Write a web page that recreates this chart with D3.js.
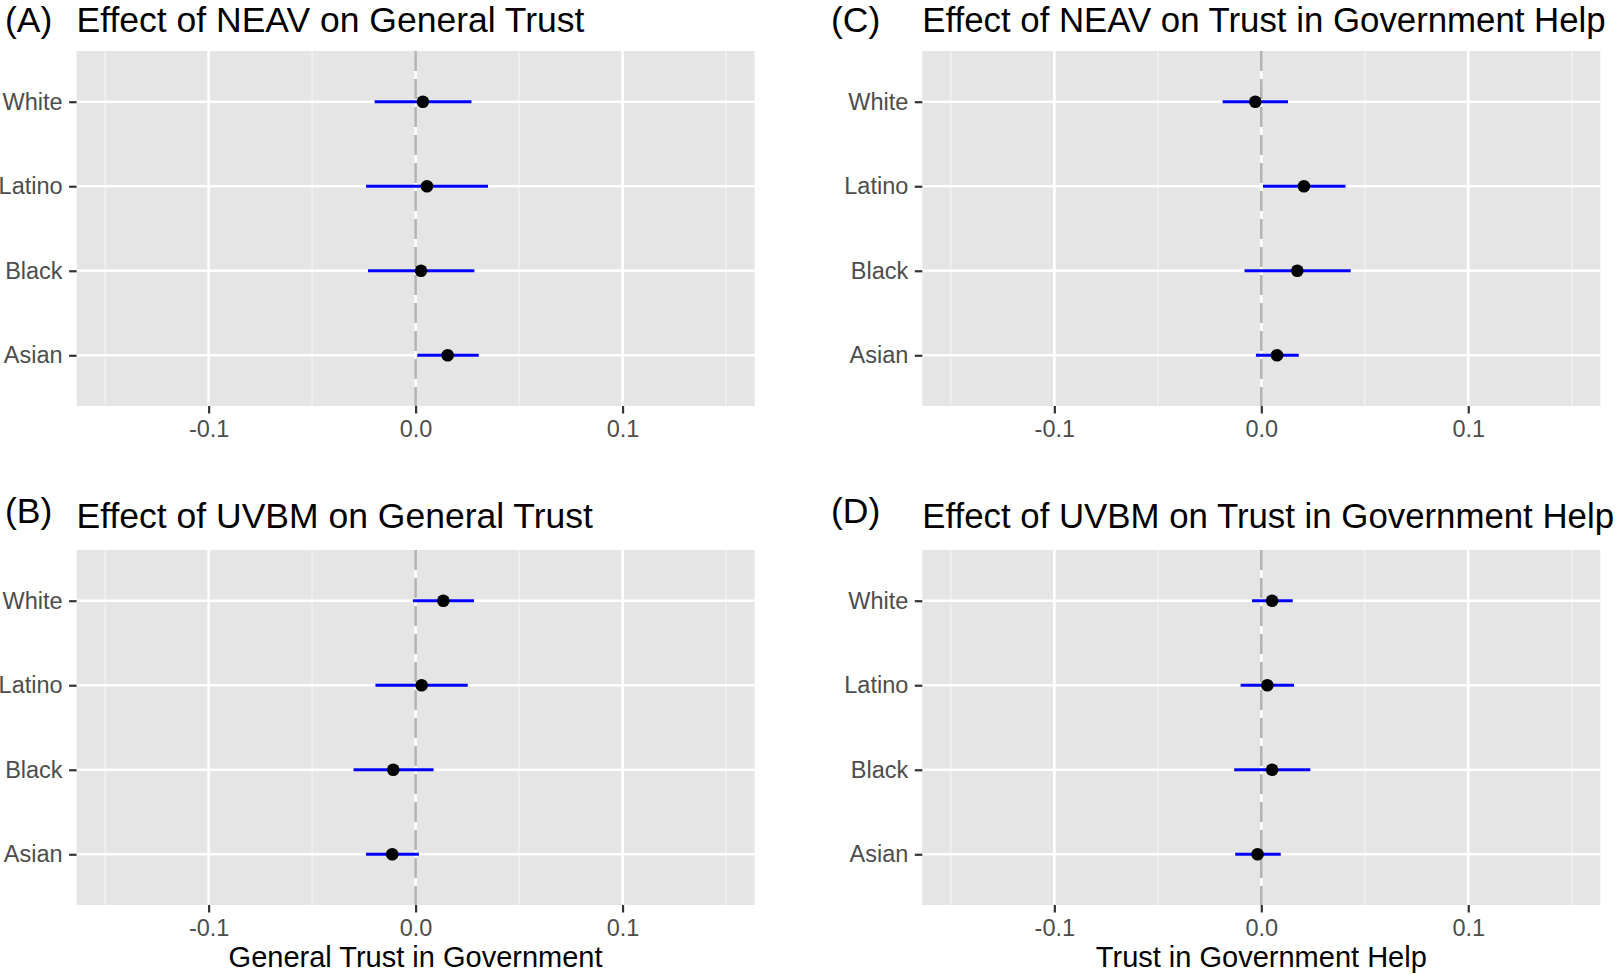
<!DOCTYPE html>
<html>
<head>
<meta charset="utf-8">
<script src="https://cdn.jsdelivr.net/npm/d3@7"></script>
<style>
	body { margin: 0; background: #fff; }
	svg text { font-family: "Liberation Sans", Arial, Helvetica, sans-serif; }
</style>
</head>
<body>
<svg id="chart" width="1623" height="974"></svg>
<script>
'use strict';

var races = ['White', 'Latino', 'Black', 'Asian'];
var xTicks = [-0.1, 0.0, 0.1];
var xMinorTicks = [-0.15, -0.05, 0.05, 0.15];

// (A) NEAV -> general trust
var neavGeneralEst = [0.0035, 0.0055, 0.0026, 0.0155];
var neavGeneralLo = [-0.0198, -0.0240, -0.0230, 0.0008];
var neavGeneralHi = [0.0270, 0.0350, 0.0284, 0.0305];

// (B) UVBM -> general trust
var uvbmGeneralEst = [0.0134, 0.0029, -0.0108, -0.0113];
var uvbmGeneralLo = [-0.0013, -0.0194, -0.0300, -0.0240];
var uvbmGeneralHi = [0.0282, 0.0252, 0.0087, 0.0016];

// (C) NEAV -> trust in government help
var neavHelpEst = [-0.0029, 0.0206, 0.0174, 0.0076];
var neavHelpLo = [-0.0187, 0.0008, -0.0081, -0.0026];
var neavHelpHi = [0.0129, 0.0407, 0.0432, 0.0181];

// (D) UVBM -> trust in government help
var uvbmHelpEst = [0.0052, 0.0029, 0.0052, -0.0018];
var uvbmHelpLo = [-0.0045, -0.0100, -0.0131, -0.0126];
var uvbmHelpHi = [0.0152, 0.0158, 0.0237, 0.0094];

var panels = [
	{tag: '(A)', title: 'Effect of NEAV on General Trust', xLabel: '',
		est: neavGeneralEst, lo: neavGeneralLo, hi: neavGeneralHi, col: 0, row: 0},
	{tag: '(B)', title: 'Effect of UVBM on General Trust', xLabel: 'General Trust in Government',
		est: uvbmGeneralEst, lo: uvbmGeneralLo, hi: uvbmGeneralHi, col: 0, row: 1},
	{tag: '(C)', title: 'Effect of NEAV on Trust in Government Help', xLabel: '',
		est: neavHelpEst, lo: neavHelpLo, hi: neavHelpHi, col: 1, row: 0},
	{tag: '(D)', title: 'Effect of UVBM on Trust in Government Help', xLabel: 'Trust in Government Help',
		est: uvbmHelpEst, lo: uvbmHelpLo, hi: uvbmHelpHi, col: 1, row: 1}
];

var panelLeft = [76.6, 922.3],
	panelTop = [51, 550],
	panelWidth = 678,
	panelHeight = 355,
	tagLeft = [5, 831],
	titleBase = [32, 528],
	tagBase = [32, 523],
	titleSize = [35.5, 34.8],
	xDomain = [-0.1638, 0.1638];

var fmt = function(d) { return d.toFixed(1); };

var svg = d3.select('#chart');

panels.forEach(function(p) {
	var px = panelLeft[p.col],
		py = panelTop[p.row];

	var x = d3.scaleLinear().domain(xDomain).range([0, panelWidth]);
	var y = d3.scalePoint().domain(races).range([0, panelHeight]).padding(0.6);

	var rows = races.map(function(r, i) {
		return {race: r, est: p.est[i], lo: p.lo[i], hi: p.hi[i]};
	});

	var g = svg.append('g').attr('transform', 'translate(' + px + ',' + py + ')');

	// panel background + grid
	g.append('rect')
		.attr('width', panelWidth)
		.attr('height', panelHeight)
		.attr('fill', '#e5e5e5');

	g.selectAll('line.minor')
		.data(xMinorTicks)
		.enter().append('line')
		.attr('class', 'minor')
		.attr('x1', function(d) { return x(d); })
		.attr('x2', function(d) { return x(d); })
		.attr('y1', 0)
		.attr('y2', panelHeight)
		.attr('stroke', '#f2f2f2')
		.attr('stroke-width', 1.4);

	g.selectAll('line.major-x')
		.data(xTicks)
		.enter().append('line')
		.attr('class', 'major-x')
		.attr('x1', function(d) { return x(d); })
		.attr('x2', function(d) { return x(d); })
		.attr('y1', 0)
		.attr('y2', panelHeight)
		.attr('stroke', '#fff')
		.attr('stroke-width', 2.6);

	g.selectAll('line.major-y')
		.data(races)
		.enter().append('line')
		.attr('class', 'major-y')
		.attr('x1', 0)
		.attr('x2', panelWidth)
		.attr('y1', function(d) { return y(d); })
		.attr('y2', function(d) { return y(d); })
		.attr('stroke', '#fff')
		.attr('stroke-width', 2.6);

	// reference line at zero
	g.append('line')
		.attr('x1', x(0))
		.attr('x2', x(0))
		.attr('y1', 0)
		.attr('y2', panelHeight)
		.attr('stroke', '#b3b3b3')
		.attr('stroke-width', 2.6)
		.attr('stroke-dasharray', '20,8');

	g.selectAll('line.ci')
		.data(rows)
		.enter().append('line')
		.attr('class', 'ci')
		.attr('x1', function(d) { return x(d.lo); })
		.attr('x2', function(d) { return x(d.hi); })
		.attr('y1', function(d) { return y(d.race); })
		.attr('y2', function(d) { return y(d.race); })
		.attr('stroke', '#0000ff')
		.attr('stroke-width', 3);

	g.selectAll('circle.est')
		.data(rows)
		.enter().append('circle')
		.attr('class', 'est')
		.attr('cx', function(d) { return x(d.est); })
		.attr('cy', function(d) { return y(d.race); })
		.attr('r', 6.3)
		.attr('fill', '#000');

	// axes
	var xAxis = g.append('g')
		.attr('transform', 'translate(0,' + panelHeight + ')')
		.call(d3.axisBottom(x).tickValues(xTicks).tickFormat(fmt)
			.tickSize(7.5).tickSizeOuter(0).tickPadding(6.8));
	var yAxis = g.append('g')
		.call(d3.axisLeft(y).tickSize(7.5).tickSizeOuter(0).tickPadding(6.5));

	[xAxis, yAxis].forEach(function(a) {
		a.select('.domain').remove();
		a.selectAll('.tick line').attr('stroke', '#333333').attr('stroke-width', 2.2);
		a.selectAll('.tick text')
			.attr('fill', '#4d4d4d')
			.style('font-size', '23.5px');
	});

	if (p.xLabel) {
		g.append('text')
			.attr('x', panelWidth / 2)
			.attr('y', 967 - py)
			.attr('text-anchor', 'middle')
			.attr('fill', '#000')
			.style('font-size', '29px')
			.text(p.xLabel);
	}

	// title and tag
	svg.append('text')
		.attr('x', px)
		.attr('y', titleBase[p.row])
		.attr('fill', '#000')
		.style('font-size', titleSize[p.col] + 'px')
		.text(p.title);

	svg.append('text')
		.attr('x', tagLeft[p.col])
		.attr('y', tagBase[p.row])
		.attr('fill', '#000')
		.style('font-size', '35.5px')
		.text(p.tag);
});
</script>
</body>
</html>
